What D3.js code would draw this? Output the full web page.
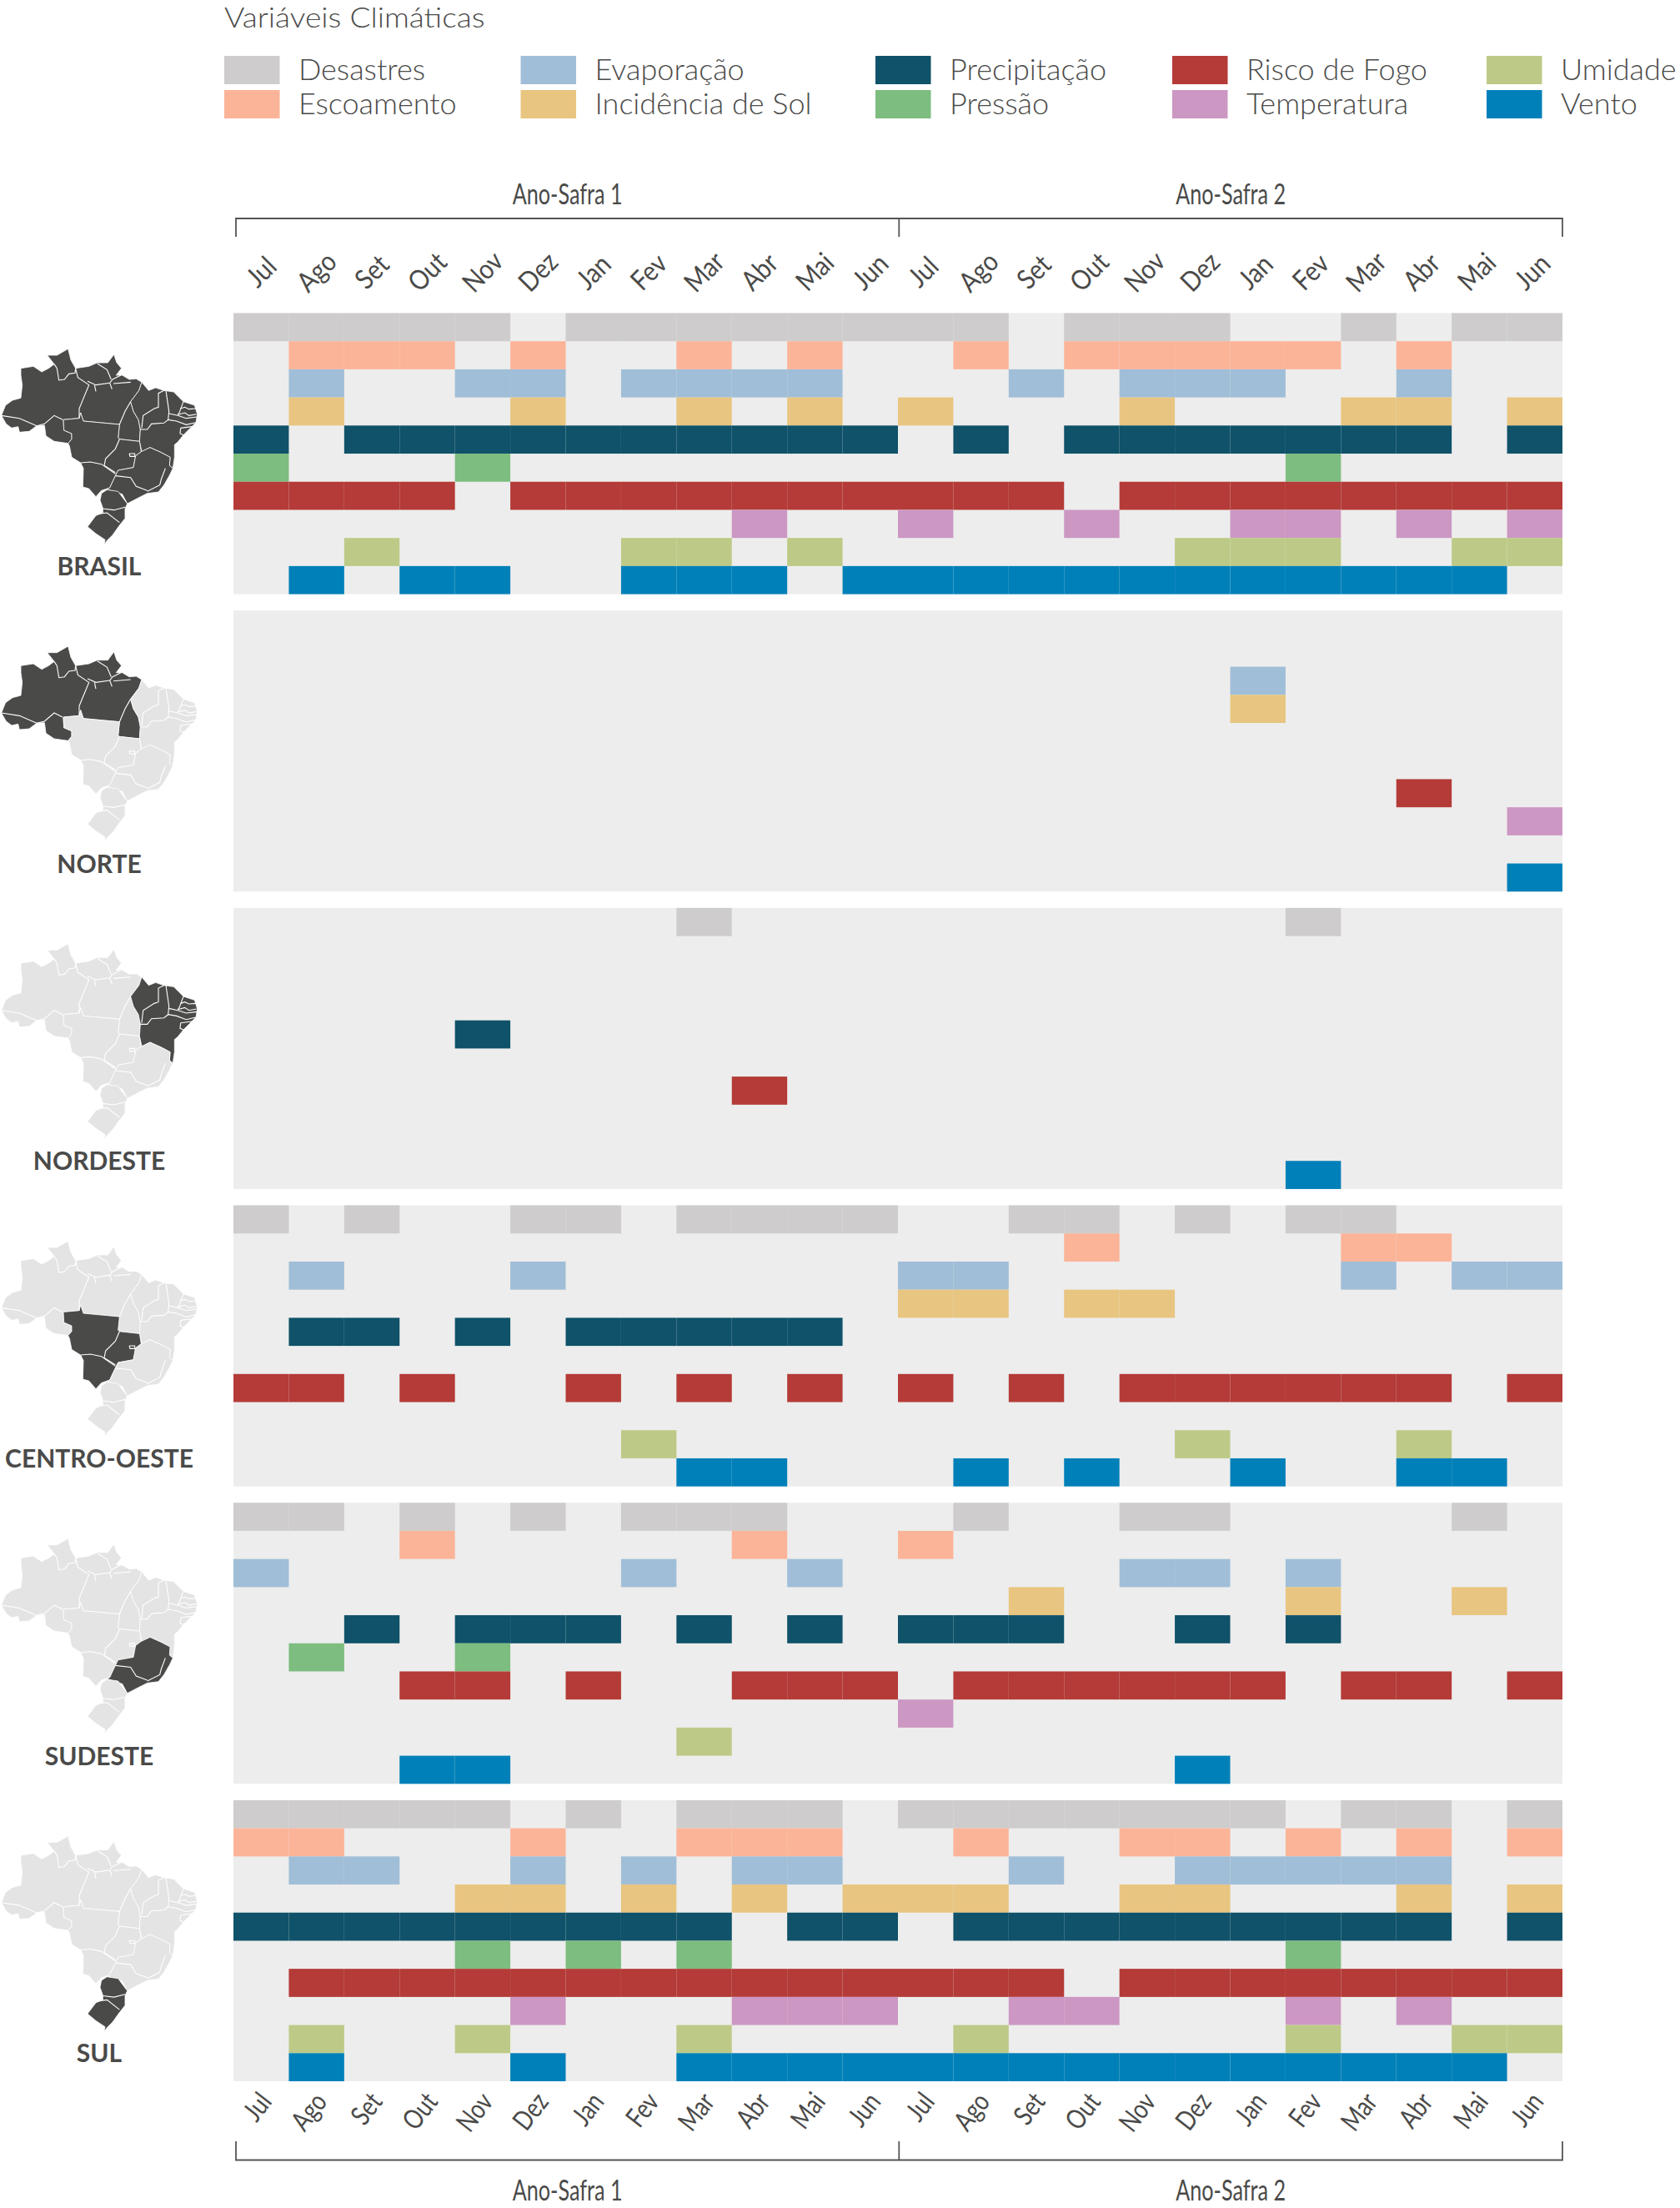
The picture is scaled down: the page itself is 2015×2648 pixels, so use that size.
<!DOCTYPE html>
<html>
<head>
<meta charset="utf-8">
<script src="https://cdn.jsdelivr.net/npm/d3@7"></script>
<style>
  html, body { margin: 0; padding: 0; background: #fff; }
  svg { display: block; }
  text { font-family: Lato, "Open Sans", sans-serif; fill: #4a4a49; }
</style>
</head>
<body>
<script>
const variables = ['Desastres', 'Escoamento', 'Evaporação', 'Incidência de Sol', 'Precipitação', 'Pressão', 'Risco de Fogo', 'Temperatura', 'Umidade', 'Vento'];
const varColors = ['#cecccd', '#fcb498', '#a0bed7', '#e8c580', '#0f5269', '#7dbd7f', '#b43b37', '#cc97c3', '#bdca87', '#0080b9'];
const months = ['Jul', 'Ago', 'Set', 'Out', 'Nov', 'Dez', 'Jan', 'Fev', 'Mar', 'Abr', 'Mai', 'Jun'];
const regions = ['BRASIL', 'NORTE', 'NORDESTE', 'CENTRO-OESTE', 'SUDESTE', 'SUL'];
const safras = ['Ano-Safra 1', 'Ano-Safra 2'];

// month index (0-23) marked for each variable, same order as variables
const brasil = [
  [0,1,2,3,4,6,7,8,9,10,11,12,13,15,16,17,20,22,23],
  [1,2,3,5,8,10,13,15,16,17,18,19,21],
  [1,4,5,7,8,9,10,14,16,17,18,21],
  [1,5,8,10,12,16,20,21,23],
  [0,2,3,4,5,6,7,8,9,10,11,13,15,16,17,18,19,20,21,23],
  [0,4,19],
  [0,1,2,3,5,6,7,8,9,10,11,12,13,14,16,17,18,19,20,21,22,23],
  [9,12,15,18,19,21,23],
  [2,7,8,10,17,18,19,22,23],
  [1,3,4,7,8,9,11,12,13,14,15,16,17,18,19,20,21,22]
];
const norte = [[], [], [18], [18], [], [], [21], [23], [], [23]];
const nordeste = [[8,19], [], [], [], [4], [], [9], [], [], [19]];
const centroOeste = [
  [0,2,5,6,8,9,10,11,14,15,17,19,20],
  [15,20,21],
  [1,5,12,13,20,22,23],
  [12,13,15,16],
  [1,2,4,6,7,8,9,10],
  [],
  [0,1,3,6,8,10,12,14,16,17,18,19,20,21,23],
  [],
  [7,17,21],
  [8,9,13,15,18,21,22]
];
const sudeste = [
  [0,1,3,5,7,8,9,13,16,17,22],
  [3,9,12],
  [0,7,10,16,17,19],
  [14,19,22],
  [2,4,5,6,8,10,12,13,14,17,19],
  [1,4],
  [3,4,6,9,10,11,13,14,15,16,17,18,20,21,23],
  [12],
  [8],
  [3,4,17]
];
const sul = [
  [0,1,2,3,4,6,8,9,10,12,13,14,15,16,17,18,20,21,23],
  [0,1,5,8,9,10,13,16,17,19,21,23],
  [1,2,5,7,9,10,14,17,18,19,20,21],
  [4,5,7,9,11,12,13,16,17,21,23],
  [0,1,2,3,4,5,6,7,8,10,11,13,14,15,16,17,18,19,20,21,23],
  [4,6,8,19],
  [1,2,3,4,5,6,7,8,9,10,11,12,13,14,16,17,18,19,20,21,22,23],
  [5,9,10,11,14,15,19,21],
  [1,4,8,13,19,22,23],
  [1,5,8,9,10,11,12,13,14,15,16,17,18,19,20,21,22]
];
const regionCells = [brasil, norte, nordeste, centroOeste, sudeste, sul];

// map outlines traced by hand, in an 810x960 drawing box
const mapNorte = [[170,78],[205,78],[245,55],[255,95],[272,125],[320,118],[350,105],[388,105],[410,75],[420,105],[437,125],[418,150],[440,150],[465,165],[490,163],[510,175],[500,205],[470,245],[480,280],[498,310],[505,345],[502,388],[430,380],[425,375],[430,327],[300,315],[290,285],[285,305],[228,310],[230,348],[258,360],[258,380],[245,395],[195,388],[165,368],[160,330],[132,332],[105,352],[70,355],[65,335],[42,340],[22,325],[5,295],[20,258],[45,240],[75,232],[80,185],[75,150],[75,125],[120,118],[150,138],[175,125],[195,110]];
const mapNordeste = [[510,175],[535,205],[560,195],[590,205],[625,210],[660,245],[700,258],[710,290],[705,320],[680,345],[660,365],[640,390],[628,400],[628,445],[622,485],[610,475],[612,445],[580,428],[540,410],[510,425],[502,388],[505,345],[498,310],[480,280],[470,245],[500,205]];
const mapCentroOeste = [[228,310],[285,305],[290,285],[300,315],[430,327],[425,375],[430,380],[502,388],[508,425],[488,440],[480,482],[425,492],[415,512],[395,555],[365,565],[345,587],[320,558],[298,552],[300,485],[290,465],[258,445],[250,405],[245,395],[258,380],[258,360],[230,348]];
const mapSudeste = [[508,425],[540,410],[580,428],[612,445],[610,475],[622,485],[610,510],[590,545],[570,570],[530,575],[500,590],[458,612],[440,578],[385,560],[395,555],[415,512],[425,492],[480,482],[488,440]];
const mapSul = [[365,575],[385,562],[425,568],[445,595],[458,612],[450,630],[450,665],[430,690],[405,725],[385,745],[375,760],[378,742],[345,720],[315,695],[345,655],[370,645],[370,628],[360,600]];
const mapShapes = [mapNorte, mapNordeste, mapCentroOeste, mapSudeste, mapSul];
const mapRegionOf = ['NORTE', 'NORDESTE', 'CENTRO-OESTE', 'SUDESTE', 'SUL'];
const stateLines = [
  [[195,110],[205,125],[212,168],[232,165],[248,145],[270,142],[272,125]],
  [[272,125],[280,158],[320,185],[285,270],[285,305]],
  [[350,108],[385,130],[400,165]],
  [[315,172],[345,185],[395,178],[405,165],[435,150]],
  [[340,185],[345,208]],[[395,178],[403,200]],[[408,180],[470,175]],
  [[5,295],[70,305],[132,332]],
  [[132,332],[160,325],[195,295],[225,310]],
  [[430,327],[450,280],[470,245]],
  [[510,340],[515,295],[555,270],[570,265],[570,215],[590,205]],
  [[597,205],[608,280],[605,310]],
  [[660,245],[645,285],[640,292]],
  [[650,270],[665,265],[680,272],[705,270]],
  [[640,292],[665,285],[680,295],[707,290]],
  [[608,288],[640,295],[670,305],[708,300]],
  [[505,345],[530,345],[545,325],[590,322],[605,310],[635,315],[670,328],[705,320]],
  [[650,340],[648,360],[660,365]],
  [[650,340],[690,335]],
  [[290,465],[325,462],[365,470],[415,505]],
  [[430,380],[415,415],[380,450],[375,475],[415,500]],
  [[465,432],[485,432],[485,442],[468,442],[465,432]],
  [[415,512],[470,518],[490,550],[530,565]],
  [[595,485],[580,525],[575,545],[530,568]],
  [[370,630],[410,635],[450,625]],
  [[345,650],[385,645],[430,680]]
];

const width = 2015, height = 2648;
const ink = '#4a4a49';
const svg = d3.select('body').append('svg').attr('width', width).attr('height', height);

const x = d3.scaleBand().domain(d3.range(24)).range([280, 1874]);
const panelY = d3.scaleBand().domain(regions).range([375.5, 2496]).paddingInner(0.055);
const rowY = d3.scaleBand().domain(variables).range([0, panelY.bandwidth()]);
const color = d3.scaleOrdinal().domain(variables).range(varColors);

// squeeze text to the narrow face of the original
function squeeze(sel, k) {
  sel.attr('lengthAdjust', 'spacingAndGlyphs')
    .attr('textLength', function () { return this.getComputedTextLength() * k; });
}

// legend
svg.append('text').attr('x', 269).attr('y', 33).attr('font-size', 33).attr('font-weight', 300)
  .text('Variáveis Climáticas').call(squeeze, 1.125);

const legendX = d3.scaleOrdinal().domain([0, 1, 2, 3, 4]).range([269, 624.5, 1050, 1406, 1783]);
const legendY = d3.scalePoint().domain([0, 1]).range([67, 108]);
const legend = svg.selectAll('.legend').data(variables).join('g').attr('class', 'legend')
  .attr('transform', (d, i) => `translate(${legendX(Math.floor(i / 2))},${legendY(i % 2)})`);
legend.append('rect').attr('width', 66.5).attr('height', 34).attr('fill', d => color(d));
legend.append('text').attr('x', 89).attr('y', 29).attr('font-size', 36).attr('font-weight', 300)
  .text(d => d).call(squeeze, 1);

// brackets and month labels, top and bottom
function header(opts) {
  const g = svg.append('g');
  const edges = [x(0) + 3, x(12) + 1.3, x.range()[1]];
  g.append('path')
    .attr('d', `M${edges[0]},${opts.tick}V${opts.bar}H${edges[2]}V${opts.tick}M${edges[1]},${opts.tick}V${opts.bar}`)
    .attr('fill', 'none').attr('stroke', '#555').attr('stroke-width', 1.8);
  g.selectAll('.safra').data(safras).join('text').attr('class', 'safra')
    .attr('x', (d, i) => (edges[i] + edges[i + 1]) / 2).attr('y', opts.label)
    .attr('text-anchor', 'middle').attr('font-size', 34).attr('font-weight', 400)
    .text(d => d).call(squeeze, 0.74);
  g.selectAll('.month').data(d3.range(24)).join('text').attr('class', 'month')
    .attr('transform', i => `translate(${x(i) + x.bandwidth() / 2 + (i < 12 ? opts.dx[0] : opts.dx[1])},${opts.y}) rotate(${opts.angle})`)
    .attr('text-anchor', opts.anchor).attr('dy', '0.35em').attr('font-size', 33).attr('font-weight', 400)
    .text(i => months[i % 12]).call(squeeze, opts.k);
}
header({tick: 284, bar: 262, label: 245, y: 326, dx: [0, -3], angle: -45, anchor: 'middle', k: 0.88});
header({tick: 2568, bar: 2590.5, label: 2639, y: 2514, dx: [5, 3], angle: -52, anchor: 'end', k: 0.8});

// panels
const mapX = d3.scaleLinear().domain([0, 810]).range([0, 270]);
const mapY = d3.scaleLinear().domain([0, 960]).range([0, 320]);
const line = d3.line().x(d => mapX(d[0])).y(d => mapY(d[1]));

const panel = svg.selectAll('.panel').data(regions).join('g').attr('class', 'panel')
  .attr('transform', d => `translate(0,${panelY(d)})`);

panel.append('rect').attr('x', x.range()[0]).attr('width', x.range()[1] - x.range()[0])
  .attr('height', panelY.bandwidth()).attr('fill', '#ededed');

panel.each(function (region, r) {
  const g = d3.select(this);
  regionCells[r].forEach((cols, v) => {
    g.selectAll(null).data(cols).join('rect')
      .attr('x', c => x(c)).attr('y', rowY(variables[v]))
      .attr('width', x.bandwidth()).attr('height', rowY.bandwidth())
      .attr('fill', color(variables[v]));
  });

  const map = g.append('g').attr('transform', 'translate(0,24.5)');
  map.selectAll('path.shape').data(mapShapes).join('path').attr('class', 'shape')
    .attr('d', d => line(d) + 'Z')
    .attr('fill', (d, i) => (region === 'BRASIL' || mapRegionOf[i] === region) ? ink : '#e4e4e4')
    .attr('stroke', '#fff').attr('stroke-width', 0.8).attr('stroke-linejoin', 'round');
  map.selectAll('path.state').data(stateLines).join('path').attr('class', 'state')
    .attr('d', line).attr('fill', 'none').attr('stroke', '#fff').attr('stroke-width', 1.1);

  g.append('text').attr('x', 119).attr('y', 314.5).attr('text-anchor', 'middle')
    .attr('font-size', 30).attr('font-weight', 700).text(region);
});
</script>
</body>
</html>
